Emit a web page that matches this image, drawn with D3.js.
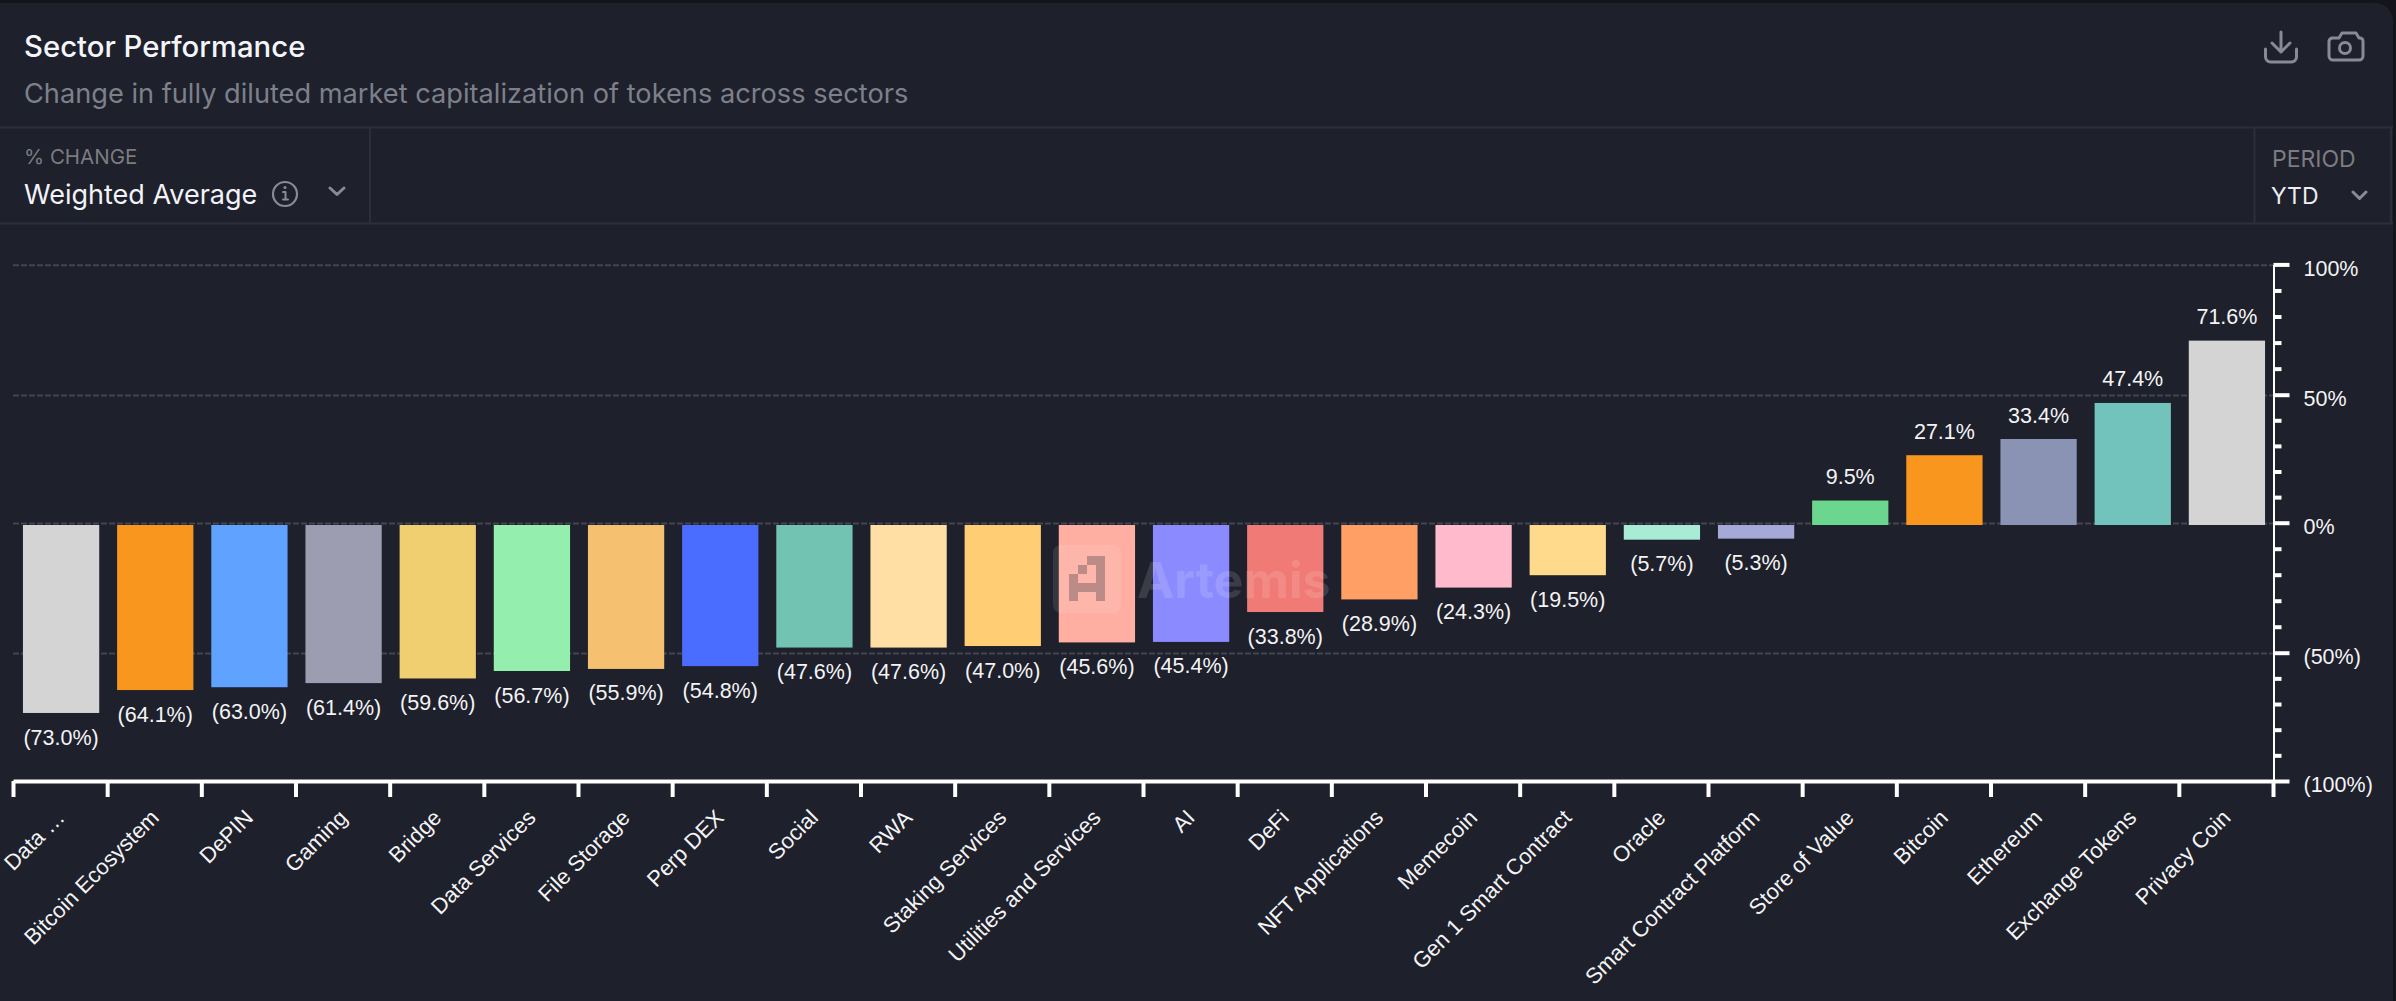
<!DOCTYPE html>
<html>
<head>
<meta charset="utf-8">
<script src="https://cdn.jsdelivr.net/npm/d3@7"></script>
<style>
html, body { margin: 0; padding: 0; background: #14151c; overflow: hidden; }
svg { display: block; }
text { font-family: "Liberation Sans", Arial, sans-serif; }
.ui { font-family: Inter, "Noto Sans", sans-serif; }
</style>
</head>
<body>
<div id="chart"></div>
<script>
const sectors = ['Data \u2026', 'Bitcoin Ecosystem', 'DePIN', 'Gaming', 'Bridge', 'Data Services', 'File Storage', 'Perp DEX',
    'Social', 'RWA', 'Staking Services', 'Utilities and Services', 'AI', 'DeFi', 'NFT Applications', 'Memecoin',
    'Gen 1 Smart Contract', 'Oracle', 'Smart Contract Platform', 'Store of Value', 'Bitcoin', 'Ethereum', 'Exchange Tokens', 'Privacy Coin']
const changes = [-73.0, -64.1, -63.0, -61.4, -59.6, -56.7, -55.9, -54.8, -47.6, -47.6, -47.0, -45.6, -45.4, -33.8, -28.9, -24.3,
    -19.5, -5.7, -5.3, 9.5, 27.1, 33.4, 47.4, 71.6]
const barColors = ['#d4d4d4', '#f9961e', '#60a2ff', '#9d9db2', '#efcf70', '#94efae', '#f5c06f', '#4a6cff',
    '#72c3b2', '#ffdfa3', '#ffcd73', '#ffaea1', '#8b8bff', '#f07a75', '#ff9f66', '#ffbbcb',
    '#ffda8c', '#a8ecd6', '#a6a9d8', '#6bd78e', '#f9961e', '#8b93b5', '#72c3bb', '#d4d4d4']
const majorTicks = [100, 50, 0, -50, -100]
const minorTicks = [90, 80, 70, 60, 40, 30, 20, 10, -10, -20, -30, -40, -60, -70, -80, -90]

const width = 2396, height = 1001
const panelBg = '#1e202b', lineColor = '#2c2e39', gridColor = '#434552', textColor = '#f4f4f6'

const svg = d3.select('#chart').append('svg')
    .attr('width', width)
    .attr('height', height)

// panel + header
svg.append('rect')
    .attr('x', -20).attr('y', 3)
    .attr('width', width - 3 + 20).attr('height', height + 20)
    .attr('rx', 18)
    .attr('fill', panelBg)

const dividers = [[0, 127.5, 2393, 127.5], [0, 223.5, 2393, 223.5], [370, 127.5, 370, 223.5], [2254.5, 127.5, 2254.5, 223.5], [2391, 127.5, 2391, 223.5]]
svg.append('g').selectAll('line').data(dividers).join('line')
    .attr('x1', d => d[0]).attr('y1', d => d[1])
    .attr('x2', d => d[2]).attr('y2', d => d[3])
    .attr('stroke', lineColor)
    .attr('stroke-width', 2)

const uiText = (x, y, str, size, color, weight) => svg.append('text')
    .attr('class', 'ui')
    .attr('x', x).attr('y', y)
    .attr('font-size', size)
    .attr('font-weight', weight || 400)
    .attr('fill', color)
    .text(str)

uiText(24, 57, 'Sector Performance', 29.3, '#f4f5fa', 500)
uiText(24, 103, 'Change in fully diluted market capitalization of tokens across sectors', 27.2, '#7d808a')
uiText(24, 164, '% CHANGE', 20.5, '#7c7c80')
uiText(24, 204, 'Weighted Average', 27, '#f2f3f8')
uiText(2272, 167, 'PERIOD', 23, '#7c7c80')
uiText(2271, 204, 'YTD', 23, '#eceef4')

// small icons
const icon = svg.append('g').attr('fill', 'none').attr('stroke', '#8a8a97').attr('stroke-linecap', 'round').attr('stroke-linejoin', 'round')
icon.append('circle').attr('cx', 285).attr('cy', 194).attr('r', 12).attr('stroke-width', 2.2)
icon.append('path').attr('d', 'M283 192h2.5v7M283 199.500h5').attr('stroke-width', 2)
icon.append('circle').attr('cx', 285).attr('cy', 187.5).attr('r', 0.7).attr('stroke-width', 1.8)
icon.append('path').attr('d', 'M330 188l7 6.500 7-6.500M2353 192l6.500 6.500 6.500-6.500').attr('stroke-width', 3)
icon.append('path').attr('d', 'M2281 32v20M2272 43l9 9 9-9M2265.5 49v8a5 5 0 0 0 5 5h21a5 5 0 0 0 5-5v-8').attr('stroke-width', 3)
icon.append('path').attr('d', 'M2333 38h6l3-5h14l3 5h1a3 3 0 0 1 3 3v15a4 4 0 0 1-4 4h-26a4 4 0 0 1-4-4v-15a4 4 0 0 1 3-3z').attr('stroke-width', 3)
icon.append('circle').attr('cx', 2345).attr('cy', 48).attr('r', 5.5).attr('stroke-width', 3)

// scales
const x = d3.scaleBand().domain(sectors).range([14, 2274]).paddingInner(0.19).paddingOuter(0.095)
const xEdge = d3.scaleLinear().domain([0, sectors.length]).range([13, 2273])
const yBar = d3.scaleLinear().domain([100, -100]).range([267.5, 782.5])
const yAxis = d3.scaleLinear().domain(majorTicks).range([264.4, 394.7, 522.7, 652.7, 781])

// dashed gridlines
svg.append('g').selectAll('line').data(majorTicks.slice(0, 4)).join('line')
    .attr('x1', 13).attr('x2', 2273)
    .attr('y1', d => yAxis(d) + 0.8).attr('y2', d => yAxis(d) + 0.8)
    .attr('stroke', gridColor)
    .attr('stroke-width', 2)
    .attr('stroke-dasharray', '6 2')

// bars
svg.append('g').selectAll('rect').data(changes).join('rect')
    .attr('x', (d, i) => x(sectors[i]))
    .attr('width', x.bandwidth())
    .attr('y', d => Math.min(yBar(d), yBar(0)))
    .attr('height', d => Math.abs(yBar(d) - yBar(0)))
    .attr('fill', (d, i) => barColors[i])

// value labels
svg.append('g').selectAll('text').data(changes).join('text')
    .attr('x', (d, i) => x(sectors[i]) + x.bandwidth() / 2)
    .attr('y', d => yBar(d) + (d < 0 ? 24 : -24))
    .attr('dy', '0.35em')
    .attr('text-anchor', 'middle')
    .attr('font-size', 21.5)
    .attr('fill', textColor)
    .text(d => d < 0 ? '(' + Math.abs(d).toFixed(1) + '%)' : d.toFixed(1) + '%')

// watermark
const mark = svg.append('g')
mark.append('rect').attr('x', 1053).attr('y', 545).attr('width', 68).attr('height', 68).attr('rx', 8)
    .attr('fill', '#fff').attr('fill-opacity', 0.1)
mark.append('path')
    .attr('d', 'M1069 574h9v-9h9v-9h18v45h-9v-9h-18v9h-9zM1078 574v9h18v-18h-9v9z')
    .attr('fill-rule', 'evenodd')
    .attr('fill', '#3a3c48').attr('fill-opacity', 0.35)
mark.append('text').attr('x', 1137).attr('y', 598)
    .attr('class', 'ui')
    .attr('font-size', 50).attr('font-weight', 700)
    .attr('fill', '#fff').attr('fill-opacity', 0.13)
    .text('Artemis')

// axes
const gx = svg.append('g')
    .attr('transform', 'translate(0,781)')
    .call(d3.axisBottom(xEdge).tickValues(d3.range(0, sectors.length + 1)).tickSize(16).tickSizeOuter(0).tickFormat(''))
gx.select('.domain').attr('stroke', '#fff').attr('stroke-width', 4)
gx.selectAll('.tick line').attr('stroke', '#fff').attr('stroke-width', 4)

const gy = svg.append('g')
    .attr('transform', 'translate(2273.5,0)')
    .call(d3.axisRight(yAxis).tickValues(majorTicks.concat(minorTicks)).tickSizeOuter(0)
        .tickFormat(d => majorTicks.includes(d) ? (d < 0 ? '(' + (-d) + '%)' : d + '%') : ''))
gy.select('.domain').attr('stroke', '#fff').attr('stroke-width', 2)
gy.selectAll('.tick line')
    .attr('stroke', '#fff')
    .attr('stroke-width', 4)
    .attr('x2', d => majorTicks.includes(d) ? 16 : 8)
gy.selectAll('.tick text')
    .attr('x', 30)
    .attr('dy', '0.5em')
    .attr('text-anchor', 'start')
    .attr('font-size', 21.5)
    .attr('font-family', '"Liberation Sans", Arial, sans-serif')
    .attr('fill', textColor)

// rotated category labels
svg.append('g').selectAll('text').data(sectors).join('text')
    .attr('transform', d => 'translate(' + (x(d) + x.bandwidth() / 2 + 5) + ',819) rotate(-45)')
    .attr('text-anchor', 'end')
    .attr('font-size', 22)
    .attr('fill', textColor)
    .text(d => d)
</script>
</body>
</html>
